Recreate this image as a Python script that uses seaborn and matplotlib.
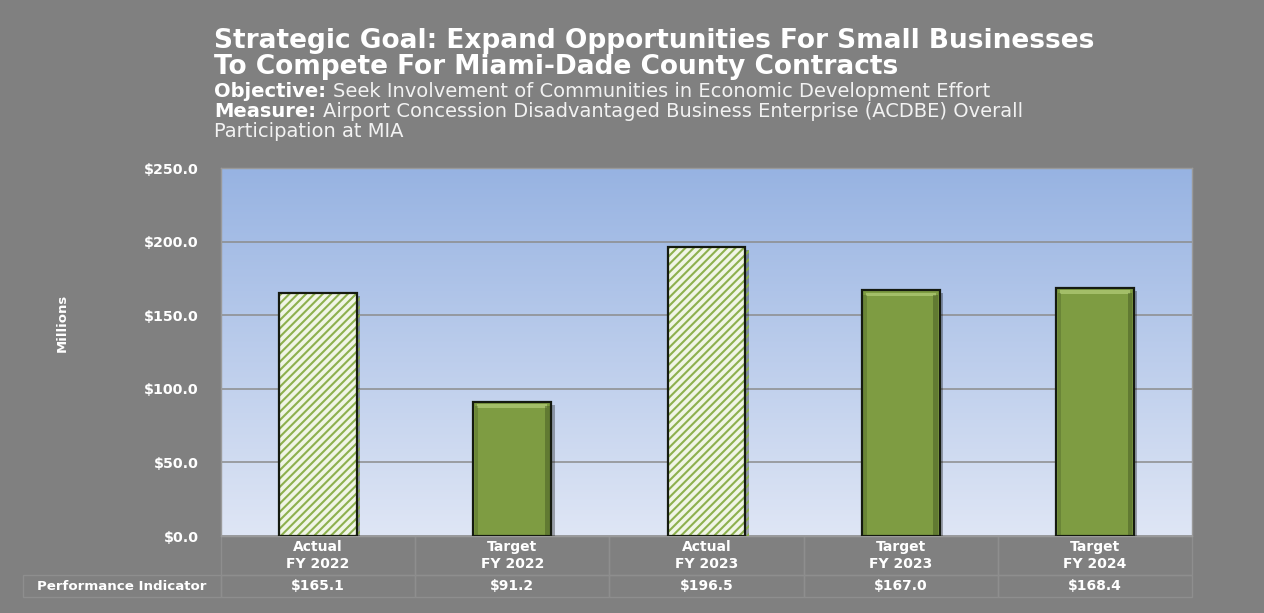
import numpy as np
import pandas as pd
import matplotlib
matplotlib.use("Agg")
import matplotlib.pyplot as plt
import matplotlib.patheffects as pe
from matplotlib.colors import LinearSegmentedColormap
from matplotlib.patches import Rectangle
from matplotlib.table import Table
import seaborn as sns

# ---- data -------------------------------------------------------------
categories = ["Actual\nFY 2022", "Target\nFY 2022", "Actual\nFY 2023",
              "Target\nFY 2023", "Target\nFY 2024"]
kinds = ["Actual", "Target", "Actual", "Target", "Target"]
values = [165.1, 91.2, 196.5, 167.0, 168.4]
y_ticks = [0, 50, 100, 150, 200, 250]
row_label = "Performance Indicator"

title_lines = ["Strategic Goal: Expand Opportunities For Small Businesses",
               "To Compete For Miami-Dade County Contracts"]
sub_lines = [("Objective:", "Seek Involvement of Communities in Economic Development Effort"),
             ("Measure:", "Airport Concession Disadvantaged Business Enterprise (ACDBE) Overall"),
             ("", "Participation at MIA")]

# ---- style ------------------------------------------------------------
sns.set_theme(style="white")
plt.rcParams["font.family"] = ["DejaVu Sans"]
plt.rcParams["hatch.linewidth"] = 1.5

BG = "#808080"
SOLID = "#7E9C42"
HATCH_GREEN = "#8DB04E"
HATCH_FACE = "#F0F5E6"
EDGE = "#151a10"

W, H = 1264, 613
fig = plt.figure(figsize=(W / 100, H / 100), dpi=100, facecolor=BG)
left, right, top, bottom = 221, 1192, 168, 536
ax = fig.add_axes([left / W, 1 - bottom / H, (right - left) / W, (bottom - top) / H])

df = pd.DataFrame({"label": categories, "value": values, "kind": kinds})
sns.barplot(data=df, x="label", y="value", color=SOLID, width=0.4,
            saturation=1, ax=ax, zorder=3)

# vertical gradient for the plot area
grad_cmap = LinearSegmentedColormap.from_list("sky", ["#DFE6F5", "#97B3E2"])
ax.imshow(np.linspace(0, 1, 256).reshape(-1, 1), extent=[0, 1, 0, 1],
          transform=ax.transAxes, origin="lower", aspect="auto",
          cmap=grad_cmap, zorder=0)
ax.set_ylim(0, 250)
ax.set_xlim(-0.5, len(categories) - 0.5)

ax.set_yticks(y_ticks)
ax.set_yticklabels([f"${v:.1f}" for v in y_ticks])
ax.yaxis.grid(True, color="#8C8C8C", linewidth=1.1, zorder=1)
ax.xaxis.grid(False)
ax.tick_params(axis="y", length=0, pad=16, labelcolor="white", labelsize=10.3)
for lab in ax.get_yticklabels():
    lab.set_fontweight("bold")
ax.set_xticks([])
ax.set_xlabel("")
ax.set_ylabel("Millions", color="white", fontsize=9.5, fontweight="bold")
ax.yaxis.set_label_coords(-0.1565, 0.58)
for s in ax.spines.values():
    s.set_color("#9A9A9A")
    s.set_linewidth(1.0)

# bar styling: hatched actuals, bevelled solid targets
def shadow():
    return [pe.SimplePatchShadow(offset=(2.5, -2), shadow_rgbFace="black", alpha=0.3),
            pe.Normal()]

for patch, kind in zip(ax.patches, kinds):
    x0, y0 = patch.get_x(), patch.get_y()
    w, h = patch.get_width(), patch.get_height()
    if kind == "Actual":
        patch.set_facecolor(HATCH_FACE)
        patch.set_edgecolor(HATCH_GREEN)
        patch.set_hatch("////")
        patch.set_linewidth(0)
        patch.set_path_effects(shadow())
        ax.add_patch(Rectangle((x0, y0), w, h, fill=False, edgecolor=EDGE,
                               linewidth=1.6, zorder=4))
    else:
        patch.set_edgecolor(EDGE)
        patch.set_linewidth(1.6)
        patch.set_path_effects(shadow())
        # top highlight and side shading for a bevelled look
        ax.add_patch(Rectangle((x0 + w * 0.05, y0 + h - 4.0), w * 0.90, 2.4,
                               facecolor="#A3BE68", edgecolor="none", zorder=4))
        ax.add_patch(Rectangle((x0 + w * 0.92, y0 + 0.8), w * 0.06, h - 4,
                               facecolor="#3E5220", edgecolor="none", alpha=0.45, zorder=4))
        ax.add_patch(Rectangle((x0 + w * 0.02, y0 + 0.8), w * 0.04, h - 4,
                               facecolor="#3E5220", edgecolor="none", alpha=0.3, zorder=4))

# data table under the bars (bbox covers the value columns; the row label
# column hangs off to the left)
lab_w = (left - 23) / (right - left)
hdr_h = (575 - bottom) / (bottom - top)
val_h = (597 - 575) / (bottom - top)
col_w = 1 / len(categories)
table = Table(ax, bbox=[0, -(hdr_h + val_h), 1, hdr_h + val_h])
for c, cat in enumerate(categories):
    table.add_cell(0, c, width=col_w, height=hdr_h, text=cat, loc="center")
    table.add_cell(1, c, width=col_w, height=val_h, text=f"${values[c]:.1f}", loc="center")
table.add_cell(1, -1, width=lab_w, height=val_h, text=row_label, loc="center")
table.auto_set_font_size(False)
for (r, c), cell in table.get_celld().items():
    cell.set_facecolor("none")
    cell.set_edgecolor("#8E8E8E")
    cell.set_linewidth(1.0)
    cell.get_text().set_color("white")
    cell.get_text().set_fontweight("bold")
    cell.get_text().set_fontsize(9.6 if c == -1 else 10)
ax.add_table(table)

# titles
x0 = 214 / W
for line, base in zip(title_lines, [48, 74]):
    fig.text(x0, 1 - base / H, line, color="white", fontsize=19,
             fontweight="bold", va="baseline")
renderer = fig.canvas.get_renderer()
for (bold, rest), base in zip(sub_lines, [97, 116.5, 137]):
    y = 1 - base / H
    xr = x0
    if bold:
        t = fig.text(x0, y, bold, color="white", fontsize=14, fontweight="bold",
                     va="baseline")
        bb = t.get_window_extent(renderer)
        xr = (bb.x1 + 7) / W
    fig.text(xr, y, rest, color="#F2F2F2", fontsize=14, va="baseline")

fig.savefig("out.png", dpi=100, facecolor=BG)
